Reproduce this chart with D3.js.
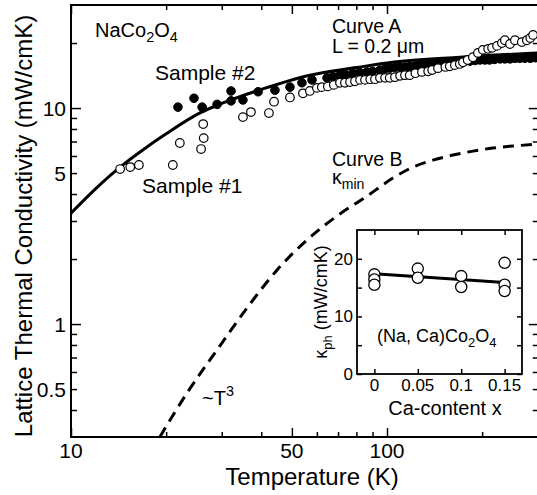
<!DOCTYPE html>
<html>
<head>
<meta charset="utf-8">
<script src="https://cdnjs.cloudflare.com/ajax/libs/d3/7.8.5/d3.min.js"></script>
<style>
  body { margin:0; background:#fff; }
  svg text { font-family: "Liberation Sans", Arial, sans-serif; fill:#000; }
</style>
</head>
<body>
<script>
/* ***************************************************************** */
/* DATA ************************************************************ */
// Sample #1 : open circles  (T in K, kappa in mW/cmK)
var s1T = [14.3,15.4,16.4,21.0,22.1,25.8,26.3,26.2,35.0,37.1,42.3,43.9,49.3,54.2,
           57.0,60.0,62.2,65.0,67.9,71.0,73.6,76.4,79.2,82.2,85.2,88.5,91.6,95.0,98.6,
           102,106,110,114,118,123,129,135,139,145,153,158,164,170,174,180,187,194,
           201,209,215,223,231,236,245,254,267,277,284,290];
var s1K = [5.22,5.33,5.45,5.45,6.89,6.46,7.26,8.43,9.08,9.58,9.48,10.7,11.2,11.7,
           12.0,12.4,12.5,12.6,12.8,13.1,13.1,13.2,13.3,13.5,13.5,13.6,13.6,13.8,13.8,
           13.8,13.9,14.1,14.2,14.2,14.5,14.7,14.8,15.0,15.3,15.5,15.6,15.8,16.0,16.3,16.7,17.2,18.0,
           18.6,18.8,19.0,19.4,20.0,20.6,19.8,20.6,20.2,20.6,21.1,21.8];

// Sample #2 : filled circles
var s2T = [21.8,24.5,26.0,29.0,32.1,32.1,35.0,39.1,44.2,49.3,53.8,57.9,64.6,67.5,71.0,74,
           78.0,82,86.4,90,95.0,98.6,102,106,110,114,118,123,127,131,136,141,147,153,158,
           164,170,176,183,190,197,204,211,219,228,236,245,254,263,273,284,295];
var s2K = [10.1,11.1,10.1,10.4,12.0,10.8,10.9,11.9,12.1,12.5,13.1,13.5,13.8,14.0,14.2,14.3,
           14.5,14.6,14.7,14.8,15.0,15.2,15.3,15.4,15.5,15.5,15.6,15.7,15.8,15.9,16.0,16.1,16.2,16.2,16.3,
           16.4,16.5,16.5,16.5,16.6,16.7,16.7,16.7,16.8,16.9,16.9,16.9,17.0,17.0,17.0,17.0,17.1];

// Curve A (L = 0.2 um) and Curve B (kappa_min)
var curveAT = [10,12,14.3,17,20,25.6,30,40,57,80,104,170,300];
var curveAK = [3.26,4.25,5.33,6.45,7.6,9.5,10.5,12.2,14.2,15.4,16.3,17.2,18.0];
var curveBT = [19.1,23.3,29.0,36.1,44.9,55.8,69.4,86.4,104.4,120.9,139.9,161.8,187.2,216.4,250.5,300];
var curveBK = [0.3,0.48,0.76,1.19,1.78,2.45,3.16,3.91,4.74,5.33,5.74,6.06,6.32,6.53,6.67,6.81];

// inset : (Na,Ca)Co2O4
var insetX = [0,0,0,0.05,0.05,0.1,0.1,0.15,0.15,0.15];
var insetK = [17.3,16.4,15.5,18.3,16.7,17.0,15.1,19.3,15.5,14.4];
var insetLineX = [0,0.15];
var insetLineK = [17.4,15.9];

// ticks
var xMajor = [10,50,100], xMinor = [20,30,40,60,70,80,90,200];
var xLabels = [10,50,100];
var yMajor = [1,10], yMinor = [0.4,0.5,0.6,0.7,0.8,0.9,2,3,4,5,6,7,8,9,20];
var yLabels = [0.5,1,5,10];
var inXTicks = [0,0.05,0.1,0.15], inYTicks = [0,5,10,15,20], inYLabels = [0,10,20];

/* ***************************************************************** */
/* SVG INIT ******************************************************** */
var W = 537, H = 495;
var svg = d3.select("body").append("svg")
    .attr("width", W).attr("height", H);

var x = d3.scaleLog().domain([10,300]).range([71, 71+316*Math.log10(30)]);
var y = d3.scaleLog().domain([0.3,30]).range([437,5]);

svg.append("clipPath").attr("id","plotclip")
  .append("rect").attr("x",71).attr("y",5).attr("width",x.range()[1]-71).attr("height",432);

/* ***************************************************************** */
/* AXES ************************************************************ */
function ax(g, axis, vals, len){
  g.call(axis.tickValues(vals).tickSize(len).tickFormat(""));
  g.select(".domain").remove();
  g.selectAll("line").attr("stroke","#000").attr("stroke-width",1.5);
}
var xr = x.range();
// bottom / top
ax(svg.append("g").attr("transform","translate(0,437)"), d3.axisBottom(x), xMajor, -9);
ax(svg.append("g").attr("transform","translate(0,437)"), d3.axisBottom(x), xMinor, -5);
ax(svg.append("g").attr("transform","translate(0,5)"), d3.axisTop(x), xMajor, -9);
ax(svg.append("g").attr("transform","translate(0,5)"), d3.axisTop(x), xMinor, -5);
// left / right
ax(svg.append("g").attr("transform","translate(71,0)"), d3.axisLeft(y), yMajor, -10);
ax(svg.append("g").attr("transform","translate(71,0)"), d3.axisLeft(y), yMinor, -6);
ax(svg.append("g").attr("transform","translate("+xr[1]+",0)"), d3.axisRight(y), yMajor, -9);
ax(svg.append("g").attr("transform","translate("+xr[1]+",0)"), d3.axisRight(y), yMinor, -5);

// frame (right side falls off the picture)
svg.append("path")
  .attr("d", "M"+(xr[1]+3)+",5H71V437H"+(xr[1]+3))
  .attr("fill","none").attr("stroke","#000").attr("stroke-width",2);

// tick labels
svg.selectAll(".xl").data(xLabels).enter().append("text")
  .attr("x", function(d){ return x(d); }).attr("y", 458)
  .attr("text-anchor","middle").attr("font-size",21).text(function(d){ return d; });
svg.selectAll(".yl").data(yLabels).enter().append("text")
  .attr("x", 66).attr("y", function(d){ return y(d)+7.5; })
  .attr("text-anchor","end").attr("font-size",21).text(function(d){ return d; });

// axis titles
svg.append("text").attr("x",312).attr("y",485).attr("text-anchor","middle")
  .attr("font-size",24).text("Temperature (K)");
svg.append("text").attr("transform","translate(32,226) rotate(-90)")
  .attr("text-anchor","middle").attr("font-size",24)
  .text("Lattice Thermal Conductivity (mW/cmK)");

/* ***************************************************************** */
/* CURVES & POINTS ************************************************* */
var plot = svg.append("g").attr("clip-path","url(#plotclip)");
var line = d3.line()
  .x(function(d){ return x(d[0]); }).y(function(d){ return y(d[1]); })
  .curve(d3.curveMonotoneX);

plot.append("path").datum(d3.zip(curveAT, curveAK))
  .attr("d", line).attr("fill","none").attr("stroke","#000").attr("stroke-width",3);
plot.append("path").datum(d3.zip(curveBT, curveBK))
  .attr("d", line).attr("fill","none").attr("stroke","#000").attr("stroke-width",3)
  .attr("stroke-dasharray","11,7");

plot.selectAll(".s2").data(d3.zip(s2T, s2K)).enter().append("circle")
  .attr("cx", function(d){ return x(d[0]); }).attr("cy", function(d){ return y(d[1]); })
  .attr("r", 4.3).attr("fill","#000").attr("stroke","#000").attr("stroke-width",1);
plot.selectAll(".s1").data(d3.zip(s1T, s1K)).enter().append("circle")
  .attr("cx", function(d){ return x(d[0]); }).attr("cy", function(d){ return y(d[1]); })
  .attr("r", 4.3).attr("fill","#fff").attr("stroke","#000").attr("stroke-width",1.2);

/* ***************************************************************** */
/* ANNOTATIONS ***************************************************** */
function sub(t, parts, fs){
  parts.forEach(function(p){
    var s = t.append("tspan").text(p[0]);
    if (p[1] === "sub") s.attr("dy",5).attr("font-size",fs*0.72);
    if (p[1] === "up") s.attr("dy",-5);
    if (p[1] === "sup") s.attr("dy",-9).attr("font-size",fs*0.72);
  });
}
var t;
t = svg.append("text").attr("x",95).attr("y",37).attr("font-size",20);
sub(t, [["NaCo"],["2","sub"],["O","up"],["4","sub"]], 20);
svg.append("text").attr("x",155).attr("y",80).attr("font-size",21).text("Sample #2");
svg.append("text").attr("x",142).attr("y",193).attr("font-size",21).text("Sample #1");
svg.append("text").attr("x",332).attr("y",33).attr("font-size",19.5).text("Curve A");
svg.append("text").attr("x",332).attr("y",53).attr("font-size",19.5).text("L = 0.2 \u03bcm");
svg.append("text").attr("x",332).attr("y",166).attr("font-size",19.5).text("Curve B");
t = svg.append("text").attr("x",332).attr("y",184).attr("font-size",19.5);
sub(t, [["\u03ba"],["min","sub"]], 19.5);
t = svg.append("text").attr("x",202).attr("y",405).attr("font-size",20);
sub(t, [["~T"],["3","sup"]], 20);

/* ***************************************************************** */
/* INSET *********************************************************** */
var ix = d3.scaleLinear().domain([-0.02,0.17]).range([357,522]);
var iy = d3.scaleLinear().domain([0,25]).range([374,230]);
var inset = svg.append("g");
inset.append("rect").attr("x",357).attr("y",230).attr("width",165).attr("height",144)
  .attr("fill","#fff").attr("stroke","none");
ax(inset.append("g").attr("transform","translate(0,374)"), d3.axisBottom(ix), inXTicks, -5);
ax(inset.append("g").attr("transform","translate(0,230)"), d3.axisTop(ix), inXTicks, -5);
ax(inset.append("g").attr("transform","translate(357,0)"), d3.axisLeft(iy), inYTicks, -5);
ax(inset.append("g").attr("transform","translate(522,0)"), d3.axisRight(iy), inYTicks, -5);
inset.append("rect").attr("x",357).attr("y",230).attr("width",165).attr("height",144)
  .attr("fill","none").attr("stroke","#000").attr("stroke-width",1.8);

inset.append("path").datum(d3.zip(insetLineX, insetLineK))
  .attr("d", d3.line().x(function(d){ return ix(d[0]); }).y(function(d){ return iy(d[1]); }))
  .attr("stroke","#000").attr("stroke-width",3).attr("fill","none");
inset.selectAll(".ic").data(d3.zip(insetX, insetK)).enter().append("circle")
  .attr("cx", function(d){ return ix(d[0]); }).attr("cy", function(d){ return iy(d[1]); })
  .attr("r", 5.6).attr("fill","#fff").attr("stroke","#000").attr("stroke-width",1.3);

inset.selectAll(".ixl").data(inXTicks).enter().append("text")
  .attr("x", function(d){ return ix(d); }).attr("y", 391)
  .attr("text-anchor","middle").attr("font-size",17).text(function(d){ return d; });
inset.selectAll(".iyl").data(inYLabels).enter().append("text")
  .attr("x", 353).attr("y", function(d){ return iy(d)+6; })
  .attr("text-anchor","end").attr("font-size",17).text(function(d){ return d; });
inset.append("text").attr("x",445).attr("y",415).attr("text-anchor","middle")
  .attr("font-size",20).text("Ca-content x");
t = inset.append("text").attr("transform","translate(327,302) rotate(-90)")
  .attr("text-anchor","middle").attr("font-size",18);
sub(t, [["\u03ba"],["ph","sub"],[" (mW/cmK)","up"]], 18);
t = inset.append("text").attr("x",377).attr("y",342).attr("font-size",18);
sub(t, [["(Na, Ca)Co"],["2","sub"],["O","up"],["4","sub"]], 18);
</script>
</body>
</html>
